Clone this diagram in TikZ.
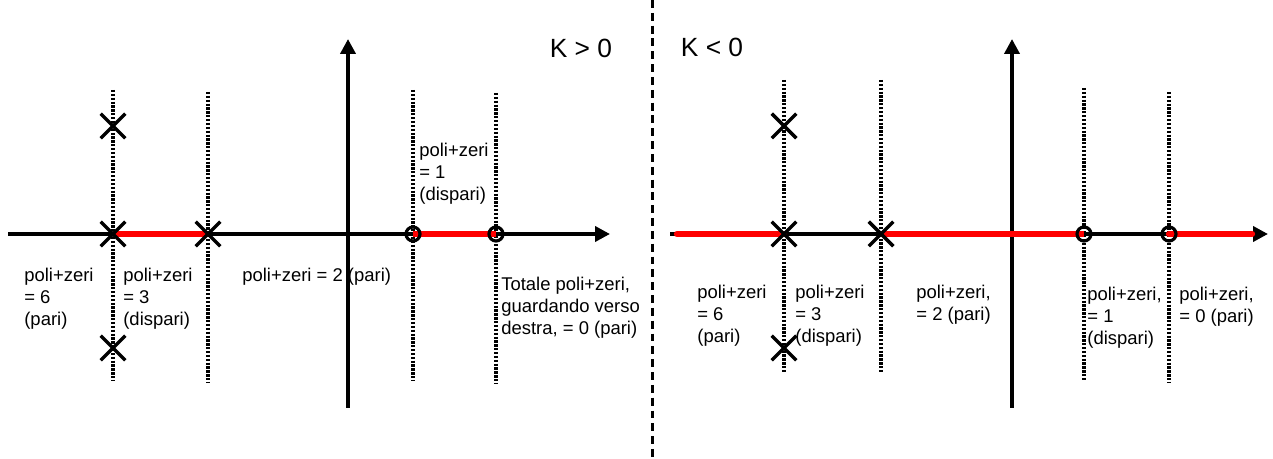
\documentclass[tikz,border=0pt]{standalone}
\usepackage{fontspec}
\setmainfont{Liberation Sans}
\usepackage{tikz}
\usetikzlibrary{arrows.meta,shapes.misc}
\definecolor{locusred}{RGB}{255,0,0}
\tikzstyle{axis} = [line width=2.1pt,-{Triangle[length=0.3cm,width=0.3cm]}]
\tikzstyle{guide} = [line width=1.8pt,dash pattern=on 1.3pt off 0.9pt]
\tikzstyle{locus} = [line width=3.6pt,color=locusred]
\tikzstyle{pole} = [cross out,draw,line width=2pt,minimum size=0.42cm,inner sep=0pt]
\tikzstyle{zero} = [circle,draw,line width=1.8pt,minimum size=0.28cm,inner sep=0pt]
\tikzstyle{lbl} = [anchor=north west,align=left,inner sep=0pt,font=\fontsize{10.5}{12.4}\selectfont]
\tikzstyle{gain} = [font=\fontsize{15}{18}\selectfont]

\begin{document}
\begin{tikzpicture}
\useasboundingbox (0,0) rectangle (25.46,9.18);

% K > 0
\coordinate (lwest) at (0.16,4.5);
\coordinate (least) at (12.2,4.5);
\coordinate (lsouth) at (6.96,1.02);
\coordinate (lnorth) at (6.96,8.4);
\coordinate (lp1) at (2.26,6.66);
\coordinate (lp2) at (2.26,4.5);
\coordinate (lp3) at (4.16,4.5);
\coordinate (lp4) at (2.26,2.22);
\coordinate (lz1) at (8.26,4.5);
\coordinate (lz2) at (9.92,4.5);

\draw[guide] (2.26,7.38) -- (2.26,1.58);
\draw[guide] (4.16,7.34) -- (4.16,1.52);
\draw[guide] (8.26,7.38) -- (8.26,1.58);
\draw[guide] (9.92,7.32) -- (9.92,1.52);
\draw[axis] (lwest) -- (least);
\draw[axis] (lsouth) -- (lnorth);
\draw[locus] (lp2) -- (lp3);
\draw[locus] (lz1) -- (lz2);
\node[pole] (lpole1) at (lp1) {};
\node[pole] (lpole2) at (lp2) {};
\node[pole] (lpole3) at (lp3) {};
\node[pole] (lpole4) at (lp4) {};
\node[zero] (lzero1) at (lz1) {};
\node[zero] (lzero2) at (lz2) {};

\node[gain] (lgain) at (11.62,8.22) {K > 0};
\node[lbl] (lsix) at (0.48,3.82) {poli+zeri\\= 6\\(pari)};
\node[lbl] (lthree) at (2.46,3.82) {poli+zeri\\= 3\\(dispari)};
\node[lbl] (ltwo) at (4.84,3.82) {poli+zeri = 2 (pari)};
\node[lbl] (lone) at (8.38,6.32) {poli+zeri\\= 1\\(dispari)};
\node[lbl] (lzero) at (10.02,3.64) {Totale poli+zeri,\\guardando verso\\destra, = 0 (pari)};

% separator
\draw[line width=1.7pt,dash pattern=on 4.5pt off 2.8pt] (13.04,9.18) -- (13.04,0);

% K < 0
\coordinate (rwest) at (13.4,4.5);
\coordinate (reast) at (25.36,4.5);
\coordinate (rsouth) at (20.24,1.02);
\coordinate (rnorth) at (20.24,8.4);
\coordinate (rp1) at (15.68,6.66);
\coordinate (rp2) at (15.68,4.5);
\coordinate (rp3) at (17.62,4.5);
\coordinate (rp4) at (15.68,2.22);
\coordinate (rz1) at (21.68,4.5);
\coordinate (rz2) at (23.38,4.5);
\coordinate (rstart) at (13.54,4.5);
\coordinate (rend) at (25.04,4.5);

\draw[guide] (15.68,7.58) -- (15.68,1.74);
\draw[guide] (17.62,7.58) -- (17.62,1.74);
\draw[guide] (21.68,7.42) -- (21.68,1.58);
\draw[guide] (23.38,7.34) -- (23.38,1.52);
\draw[axis] (rwest) -- (reast);
\draw[axis] (rsouth) -- (rnorth);
\draw[locus,line cap=round] (rstart) -- (rp2);
\draw[locus] (rp3) -- (rz1);
\draw[locus,line cap=round] (rz2) -- (rend);
\node[pole] (rpole1) at (rp1) {};
\node[pole] (rpole2) at (rp2) {};
\node[pole] (rpole3) at (rp3) {};
\node[pole] (rpole4) at (rp4) {};
\node[zero] (rzero1) at (rz1) {};
\node[zero] (rzero2) at (rz2) {};

\node[gain] (rgain) at (14.24,8.24) {K < 0};
\node[lbl] (rsix) at (13.94,3.48) {poli+zeri\\= 6\\(pari)};
\node[lbl] (rthree) at (15.9,3.48) {poli+zeri\\= 3\\(dispari)};
\node[lbl] (rtwo) at (18.32,3.48) {poli+zeri,\\= 2 (pari)};
\node[lbl] (rone) at (21.74,3.44) {poli+zeri,\\= 1\\(dispari)};
\node[lbl] (rzero) at (23.58,3.44) {poli+zeri,\\= 0 (pari)};
\end{tikzpicture}
\end{document}
